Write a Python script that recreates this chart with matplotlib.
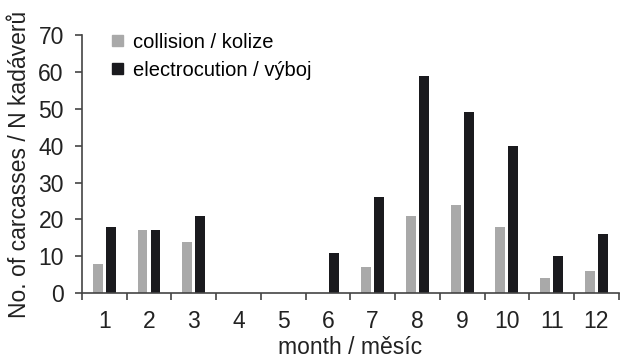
import matplotlib
matplotlib.use("Agg")
import matplotlib.pyplot as plt
from matplotlib.patches import Patch
import numpy as np

months = ["1", "2", "3", "4", "5", "6", "7", "8", "9", "10", "11", "12"]
collision = [8, 17, 14, 0, 0, 0, 7, 21, 24, 18, 4, 6]
electrocution = [18, 17, 21, 0, 0, 11, 26, 59, 49, 40, 10, 16]
series_labels = ["collision / kolize", "electrocution / výboj"]
yticks = [0, 10, 20, 30, 40, 50, 60, 70]

plt.rcParams['font.family'] = ['Liberation Sans', 'DejaVu Sans']

fig = plt.figure(figsize=(6.2, 3.61), dpi=100)
ax = fig.add_axes([0.132, 0.188, 0.866, 0.715])

x = np.arange(1, len(months) + 1)
w = 0.22
off = 0.145
c_gray = "#a9a9a9"
c_black = "#1a1a1e"
ax.bar(x - off, collision, width=w, color=c_gray, zorder=2)
ax.bar(x + off, electrocution, width=w, color=c_black, zorder=2)

fs = 16.5
ax.set_xlim(0.5, 12.5)
ax.set_ylim(0, 70)
ax.set_xticks(x)
ax.set_xticklabels(months)
ax.set_xticks(np.arange(0.5, 12.6, 1), minor=True)
ax.tick_params(axis='x', which='major', length=0, pad=12, labelsize=fs, colors="#222222")
ax.tick_params(axis='x', which='minor', length=5, width=1.2, color="#444444", direction='out')
ax.set_yticks(yticks)
ax.tick_params(axis='y', length=5, width=1.2, color="#444444", pad=8, labelsize=fs, labelcolor="#222222")

for s in ['top', 'right']:
    ax.spines[s].set_visible(False)
for s in ['left', 'bottom']:
    ax.spines[s].set_color("#444444")
    ax.spines[s].set_linewidth(1.2)

ax.set_ylabel("No. of carcasses / N kadáverů", fontsize=fs, color="#222222", labelpad=5)
ax.set_xlabel("month / měsíc", fontsize=fs, color="#222222", labelpad=2.5)

handles = [Patch(color=c_gray), Patch(color=c_black)]
ax.legend(handles, series_labels, loc='upper left', bbox_to_anchor=(0.042, 1.04),
          frameon=False, fontsize=14.5, handlelength=0.5, handleheight=0.5,
          handletextpad=0.5, labelspacing=0.45, borderaxespad=0)

fig.savefig("out.png", dpi=100)
